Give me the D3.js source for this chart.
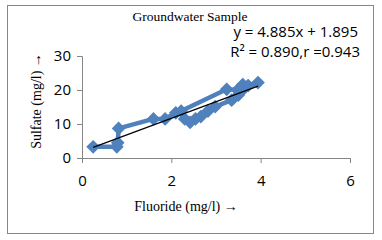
<!DOCTYPE html>
<html>
<head>
<meta charset="utf-8">
<script src="https://cdn.jsdelivr.net/npm/d3@7"></script>
<style>
body { margin: 0; background: #fff; }
</style>
</head>
<body>
<svg width="382" height="240"></svg>
<script>
// data
var fluoride = [0.25, 0.78, 0.80, 0.82, 1.60, 1.86, 2.10, 2.22, 3.24, 3.48, 3.60, 3.72, 3.94,
                3.58, 3.50, 3.35, 2.98, 2.82, 2.66, 2.54, 2.42, 2.30];
var sulfate = [3.3, 3.3, 4.5, 8.7, 11.5, 11.5, 13.3, 13.8, 20.2, 20.0, 21.6, 21.3, 22.2,
               19.8, 18.5, 17.0, 15.1, 13.8, 12.2, 11.5, 10.5, 11.5];
var xTicks = [0, 2, 4, 6];
var yTicks = [0, 10, 20, 30];
var slope = 4.885, intercept = 1.895;

var svg = d3.select("svg"),
    margin = {top: 56, right: 32, bottom: 82, left: 82},
    width = 382 - margin.left - margin.right,
    height = 240 - margin.top - margin.bottom;

// outer frame
svg.append("rect")
    .attr("x", 7.5).attr("y", 5.5)
    .attr("width", 366).attr("height", 228)
    .attr("fill", "#fff")
    .attr("stroke", "#868686");

var g = svg.append("g").attr("transform", "translate(" + margin.left + "," + margin.top + ")");

var x = d3.scaleLinear().domain([0, 6]).range([0, width]),
    y = d3.scaleLinear().domain([0, 30]).range([height, 0]);

var xAxis = g.append("g")
    .attr("transform", "translate(0," + height + ")")
    .call(d3.axisBottom(x).tickValues(xTicks).tickFormat(d3.format("d")).tickSize(5).tickPadding(12));
var yAxis = g.append("g")
    .call(d3.axisLeft(y).tickValues(yTicks).tickFormat(d3.format("d")).tickSize(5).tickPadding(6));

[xAxis, yAxis].forEach(function (a) {
    a.selectAll("path, line").attr("stroke", "#868686");
    a.selectAll("text")
        .attr("fill", "#000")
        .style("font", "15px 'Open Sans', sans-serif");
});

var pts = fluoride.map(function (f, i) { return {x: f, y: sulfate[i]}; });

var line = d3.line()
    .x(function (d) { return x(d.x); })
    .y(function (d) { return y(d.y); });

g.append("path")
    .datum(pts)
    .attr("d", line)
    .attr("fill", "none")
    .attr("stroke", "#4F81BD")
    .attr("stroke-width", 4.5)
    .attr("stroke-linejoin", "round");

g.selectAll(".pt")
    .data(pts)
    .enter().append("path")
    .attr("class", "pt")
    .attr("d", d3.symbol().type(d3.symbolDiamond2).size(120))
    .attr("transform", function (d) { return "translate(" + x(d.x) + "," + y(d.y) + ")"; })
    .attr("fill", "#4F81BD");

// trendline
var xMin = d3.min(fluoride), xMax = d3.max(fluoride);
g.append("line")
    .attr("x1", x(xMin)).attr("y1", y(slope * xMin + intercept))
    .attr("x2", x(xMax)).attr("y2", y(slope * xMax + intercept))
    .attr("stroke", "#000")
    .attr("stroke-width", 1.2);

svg.append("text")
    .attr("x", 190).attr("y", 21)
    .attr("text-anchor", "middle")
    .style("font", "13.5px 'Liberation Serif', serif")
    .text("Groundwater Sample");

svg.append("text")
    .attr("x", 358).attr("y", 37)
    .attr("text-anchor", "end")
    .style("font", "15px 'Open Sans', sans-serif")
    .text("y = 4.885x + 1.895");

svg.append("text")
    .attr("x", 360).attr("y", 57)
    .attr("text-anchor", "end")
    .style("font", "15px 'Open Sans', sans-serif")
    .text("R² = 0.890,r =0.943");

svg.append("text")
    .attr("x", 186).attr("y", 211)
    .attr("text-anchor", "middle")
    .style("font", "14px 'Liberation Serif', serif")
    .text("Fluoride (mg/l) →");

svg.append("text")
    .attr("transform", "translate(41,101) rotate(-90)")
    .attr("text-anchor", "middle")
    .style("font", "14px 'Liberation Serif', serif")
    .text("Sulfate (mg/l) →");
</script>
</body>
</html>
